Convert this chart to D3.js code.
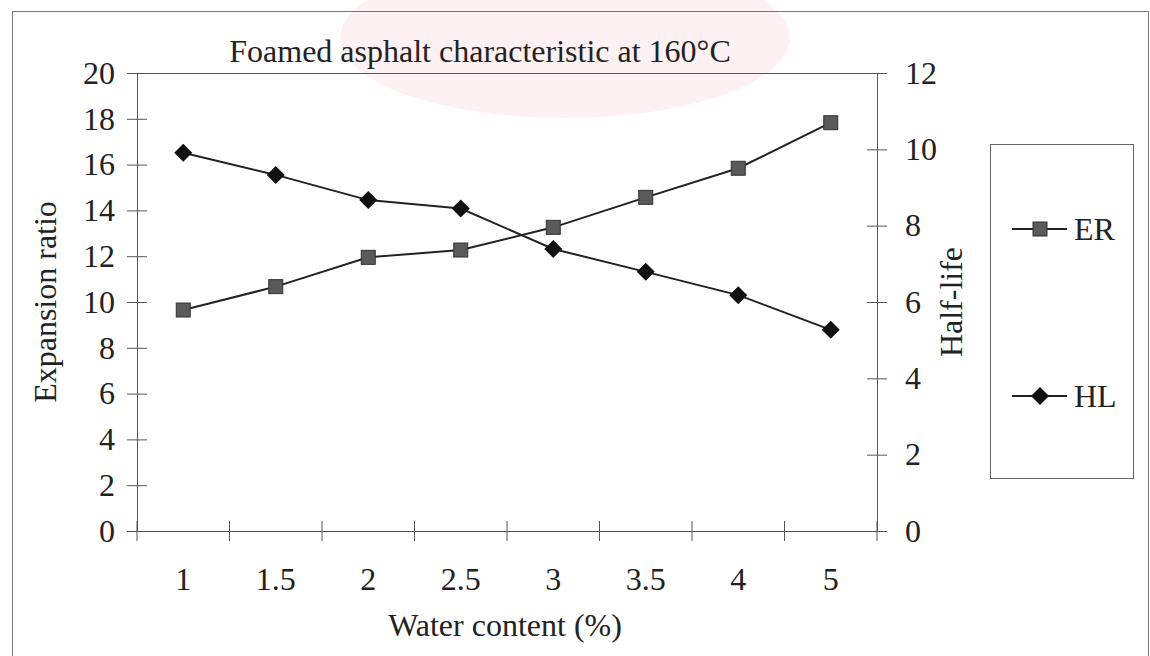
<!DOCTYPE html>
<html>
<head>
<meta charset="utf-8">
<script src="https://cdn.jsdelivr.net/npm/d3@7"></script>
<style>
  body { margin: 0; background: #fff; }
  svg text { font-family: "Liberation Serif", "Times New Roman", serif; fill: #222; }
</style>
</head>
<body>
<div id="chart"></div>
<script>
// Data
var categories = ["1", "1.5", "2", "2.5", "3", "3.5", "4", "5"],
	erValues = [9.65, 10.67, 11.95, 12.27, 13.26, 14.57, 15.84, 17.83],
	hlValues = [9.91, 9.33, 8.67, 8.45, 7.39, 6.79, 6.18, 5.27],
	leftTicks = [0, 2, 4, 6, 8, 10, 12, 14, 16, 18, 20],
	rightTicks = [0, 2, 4, 6, 8, 10, 12];

var width = 1150,
	height = 656,
	margin = {top: 73, left: 137, right: 273, bottom: 125},
	fs = 32,
	svg = d3.select("#chart")
	.append("svg")
	.attr("width", width)
	.attr("height", height);

var plotW = width - margin.left - margin.right,
	plotH = height - margin.top - margin.bottom;

var x = d3.scaleBand()
	.domain(categories)
	.range([margin.left, margin.left + plotW]),
	yL = d3.scaleLinear()
	.domain([0, 20])
	.range([margin.top + plotH, margin.top]),
	yR = d3.scaleLinear()
	.domain([0, 12])
	.range([margin.top + plotH, margin.top]);

// faint watermark blob behind the title
svg.append("ellipse")
	.attr("cx", 565).attr("cy", 38)
	.attr("rx", 225).attr("ry", 80)
	.style("fill", "#fdf1f3");

// outer frame
svg.append("rect")
	.attr("x", 12.5).attr("y", 11.5)
	.attr("width", 1136).attr("height", 700)
	.style("fill", "none")
	.style("stroke", "#777")
	.style("stroke-width", 1);

// title
svg.append("text")
	.attr("x", 480).attr("y", 62)
	.attr("text-anchor", "middle")
	.style("font-size", fs + "px")
	.text("Foamed asphalt characteristic at 160°C");

// plot area top line
svg.append("line")
	.attr("x1", margin.left).attr("x2", margin.left + plotW)
	.attr("y1", margin.top + 0.5).attr("y2", margin.top + 0.5)
	.style("stroke", "#555");

// left axis
var gL = svg.append("g")
	.attr("transform", "translate(" + margin.left + ",0)")
	.call(d3.axisLeft(yL).tickValues(leftTicks).tickSize(10).tickPadding(12));
gL.selectAll(".tick line").attr("x2", -10).attr("x1", 10);
// right axis
var gR = svg.append("g")
	.attr("transform", "translate(" + (margin.left + plotW) + ",0)")
	.call(d3.axisRight(yR).tickValues(rightTicks).tickSize(10).tickPadding(18));
gR.selectAll(".tick line").attr("x1", -10).attr("x2", 10);
// x axis, ticks between categories
var gX = svg.append("g")
	.attr("transform", "translate(0," + (margin.top + plotH) + ")")
	.call(d3.axisBottom(x).tickSize(0).tickPadding(36));
gX.selectAll(".boundary")
	.data(d3.range(categories.length + 1))
	.enter().append("line")
	.attr("x1", function(i) { return margin.left + i * x.step(); })
	.attr("x2", function(i) { return margin.left + i * x.step(); })
	.attr("y1", -10).attr("y2", 10)
	.style("stroke", "#555");

[gL, gR, gX].forEach(function(g) {
	g.select(".domain").style("stroke", "#555").attr("stroke-width", 1);
	g.selectAll(".tick line").style("stroke", "#555");
	g.selectAll("text")
		.style("font-size", fs + "px")
		.style("font-family", '"Liberation Serif", "Times New Roman", serif')
		.style("fill", "#222");
});
gL.select(".domain").attr("d", "M0.5," + (margin.top) + "V" + (margin.top + plotH));
gR.select(".domain").attr("d", "M0.5," + (margin.top) + "V" + (margin.top + plotH));
gX.select(".domain").attr("d", "M" + margin.left + ",0.5H" + (margin.left + plotW));

// axis titles
svg.append("text")
	.attr("transform", "translate(56," + (margin.top + plotH / 2) + ") rotate(-90)")
	.attr("text-anchor", "middle")
	.style("font-size", fs + "px")
	.text("Expansion ratio");
svg.append("text")
	.attr("transform", "translate(962," + (margin.top + plotH / 2) + ") rotate(-90)")
	.attr("text-anchor", "middle")
	.style("font-size", fs + "px")
	.text("Half-life");
svg.append("text")
	.attr("x", margin.left + plotW / 2 - 2).attr("y", 636)
	.attr("text-anchor", "middle")
	.style("font-size", fs + "px")
	.text("Water content (%)");

// lines
var cx = function(d, i) { return x(categories[i]) + x.bandwidth() / 2; };
var erLine = d3.line().x(cx).y(function(d) { return yL(d); }),
	hlLine = d3.line().x(cx).y(function(d) { return yR(d); });

svg.append("path").datum(erValues)
	.attr("d", erLine)
	.style("fill", "none").style("stroke", "#222").style("stroke-width", 2);
svg.append("path").datum(hlValues)
	.attr("d", hlLine)
	.style("fill", "none").style("stroke", "#222").style("stroke-width", 2);

var sq = 14, dm = 9;
function square(g, px, py) {
	g.append("rect")
		.attr("x", px - sq / 2).attr("y", py - sq / 2)
		.attr("width", sq).attr("height", sq)
		.style("fill", "#5a5a5a").style("stroke", "#333").style("stroke-width", 1);
}
function diamond(g, px, py) {
	g.append("path")
		.attr("d", "M" + px + "," + (py - dm) + "L" + (px + dm) + "," + py + "L" + px + "," + (py + dm) + "L" + (px - dm) + "," + py + "Z")
		.style("fill", "#111");
}
var marks = svg.append("g");
erValues.forEach(function(d, i) { square(marks, cx(d, i), yL(d)); });
hlValues.forEach(function(d, i) { diamond(marks, cx(d, i), yR(d)); });

// legend
var lg = svg.append("g");
lg.append("rect")
	.attr("x", 990.5).attr("y", 144.5)
	.attr("width", 143).attr("height", 334)
	.style("fill", "#fff").style("stroke", "#666");
[["ER", 229, square], ["HL", 396, diamond]].forEach(function(it) {
	lg.append("line")
		.attr("x1", 1012).attr("x2", 1067)
		.attr("y1", it[1]).attr("y2", it[1])
		.style("stroke", "#222").style("stroke-width", 2);
	it[2](lg, 1040, it[1]);
	lg.append("text")
		.attr("x", 1074).attr("y", it[1] + 11)
		.style("font-size", fs + "px")
		.text(it[0]);
});
</script>
</body>
</html>
